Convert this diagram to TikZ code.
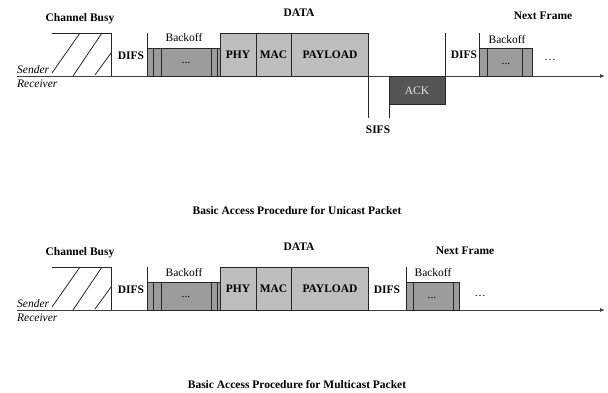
\documentclass[tikz,border=0pt]{standalone}
\usepackage{fontspec}
\setmainfont{Liberation Serif}
\usetikzlibrary{arrows.meta}
\definecolor{boffgray}{HTML}{9C9C9C}
\definecolor{datagray}{HTML}{BEBEBE}
\definecolor{ackgray}{HTML}{555555}
\begin{document}
\begin{tikzpicture}[x=1pt,y=-1pt,
  every node/.style={inner sep=0pt,font=\fontsize{11.5}{13}\selectfont},
  lbl/.style={font=\fontsize{11.5}{13}\selectfont\bfseries},
  rlbl/.style={font=\fontsize{11.5}{13}\selectfont},
  ilbl/.style={font=\fontsize{11.5}{13}\selectfont\itshape, anchor=base west},
  ln/.style={line width=0.8pt, draw=black!85},
  boff/.style={ln, fill=boffgray},
  datab/.style={ln, fill=datagray},
  ackb/.style={ln, fill=ackgray},
  axis/.style={line width=0.9pt, draw=black!75, -{Latex[length=5pt,width=4pt]}}
]
\useasboundingbox (0,0) rectangle (608,392);

%================ Unicast ================
\begin{scope}
\node[lbl] (cb1) at (80,19) {Channel Busy};
\draw[ln] (52,33) -- (111,33) -- (111,76);
\draw[ln] (52,73) -- (80,33);
\draw[ln] (73,76) -- (102,33);
\draw[ln] (95,75) -- (111,53);
\node[ilbl] (snd1) at (17,73) {Sender};
\node[ilbl] (rcv1) at (17,87) {Receiver};
\coordinate (s1) at (17,76);
\coordinate (e1) at (605,76);
\draw[axis] (s1) -- (e1);
\node[lbl] (difs1) at (131,56) {DIFS};
\draw[ln] (147,33) -- (147,48);
\draw[boff] (147,48) rectangle (220.5,76);
\foreach \x in {153,161,211,217} \draw[ln] (\x,48) -- (\x,76);
\node[rlbl] (bo1) at (184,38) {Backoff};
\node[rlbl] (bd1) at (186,63) {...};
\draw[datab] (220.5,33) rectangle (368,76);
\draw[ln] (256,33) -- (256,76);
\draw[ln] (291,33) -- (291,76);
\node[lbl] (data1) at (299,13) {DATA};
\node[lbl] (phy1) at (238,55) {PHY};
\node[lbl] (mac1) at (273.5,55) {MAC};
\node[lbl] (pay1) at (330,55) {PAYLOAD};
\draw[ln] (368,76) -- (368,118);
\draw[ackb] (389,76) rectangle (445,104);
\node[rlbl, text=black!10] (ack1) at (417,91) {ACK};
\draw[ln] (389,104) -- (389,118);
\draw[ln] (445,33) -- (445,76);
\node[lbl] (sifs1) at (378,130) {SIFS};
\node[lbl] (difs2) at (464,55) {DIFS};
\draw[ln] (479,33) -- (479,48);
\draw[boff] (479,48) rectangle (532,76);
\foreach \x in {487,522} \draw[ln] (\x,48) -- (\x,76);
\node[rlbl] (bo2) at (507,40) {Backoff};
\node[rlbl] (bd2) at (506,64) {...};
\node[rlbl] (dots1) at (550,60) {\dots};
\node[lbl] (nf1) at (543,16) {Next Frame};
\node[lbl] (cap1) at (297,211) {Basic Access Procedure for Unicast Packet};
\end{scope}

%================ Multicast ================
\begin{scope}
\node[lbl] (cb2) at (80,253) {Channel Busy};
\draw[ln] (52,267) -- (111,267) -- (111,310);
\draw[ln] (52,307) -- (80,267);
\draw[ln] (73,310) -- (102,267);
\draw[ln] (95,309) -- (111,287);
\node[ilbl] (snd2) at (17,307) {Sender};
\node[ilbl] (rcv2) at (17,321) {Receiver};
\coordinate (s2) at (17,310);
\coordinate (e2) at (605,310);
\draw[axis] (s2) -- (e2);
\node[lbl] (difs3) at (131,290) {DIFS};
\draw[ln] (147,267) -- (147,282);
\draw[boff] (147,282) rectangle (220.5,310);
\foreach \x in {153,161,211,217} \draw[ln] (\x,282) -- (\x,310);
\node[rlbl] (bo3) at (184,272) {Backoff};
\node[rlbl] (bd3) at (186,297) {...};
\draw[datab] (220.5,267) rectangle (368,310);
\draw[ln] (256,267) -- (256,310);
\draw[ln] (291,267) -- (291,310);
\node[lbl] (data2) at (299,247) {DATA};
\node[lbl] (phy2) at (238,289) {PHY};
\node[lbl] (mac2) at (273.5,289) {MAC};
\node[lbl] (pay2) at (330,289) {PAYLOAD};
\node[lbl] (difs4) at (387,290) {DIFS};
\draw[ln] (406,267) -- (406,282);
\draw[boff] (406,282) rectangle (459,310);
\foreach \x in {413,453} \draw[ln] (\x,282) -- (\x,310);
\node[rlbl] (bo4) at (433,272) {Backoff};
\node[rlbl] (bd4) at (432,298) {...};
\node[rlbl] (dots2) at (480,296) {\dots};
\node[lbl] (nf2) at (465,251) {Next Frame};
\node[lbl] (cap2) at (297,385) {Basic Access Procedure for Multicast Packet};
\end{scope}
\end{tikzpicture}
\end{document}
